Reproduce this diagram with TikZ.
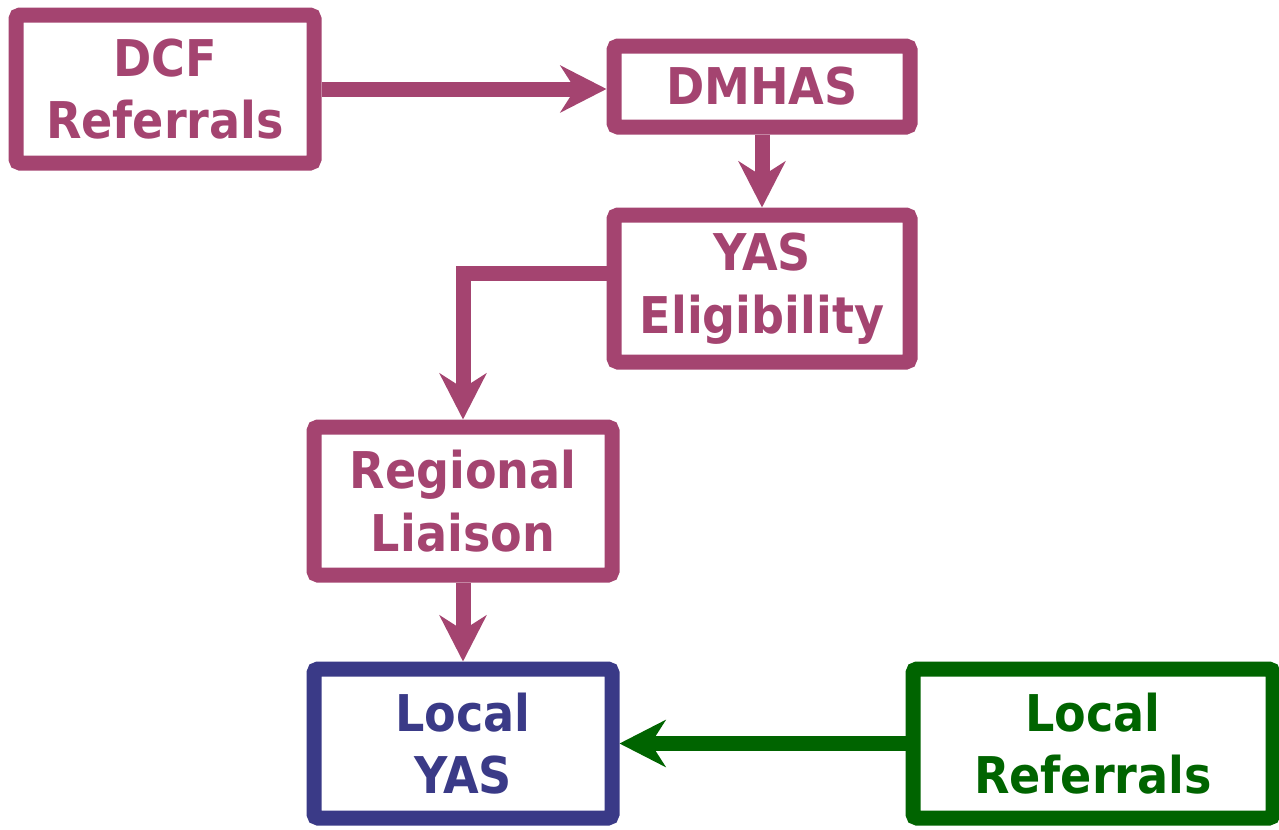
\documentclass[tikz,border=0pt]{standalone}
\usepackage{fontspec}
\setmainfont[FakeStretch=0.91]{DejaVu Sans}
\usetikzlibrary{arrows.meta}
\definecolor{mag}{HTML}{A44470}
\definecolor{navy}{HTML}{3A3A87}
\definecolor{dgreen}{HTML}{006400}
\begin{document}
\begin{tikzpicture}[x=0.75pt,y=-0.75pt,
  box/.style={draw, line width=11.25pt, rounded corners=3pt, align=center,
    font=\bfseries\fontsize{38}{47}\selectfont, inner sep=0pt},
  conn/.style={line width=11.25pt, line join=miter,
    -{Stealth[length=34.5pt,width=35pt,inset=11pt]}}]
\useasboundingbox (0,0) rectangle (1279,829);
\node[box, mag, minimum width=223.5pt, minimum height=111pt] (dcf) at (165,89) {DCF\\Referrals};
\node[box, mag, minimum width=222pt, minimum height=60.75pt] (dmhas) at (762,86.5) {DMHAS};
\node[box, mag, minimum width=222pt, minimum height=110.25pt] (yas) at (762,288.5) {YAS\\Eligibility};
\node[box, mag, minimum width=223.5pt, minimum height=111pt] (reg) at (463,501) {Regional\\Liaison};
\node[box, navy, minimum width=223.5pt, minimum height=111.75pt] (lyas) at (463,743.5) {Local\\YAS};
\node[box, dgreen, minimum width=270pt, minimum height=111.75pt] (lref) at (1093,743.5) {Local\\Referrals};
\draw[conn, mag] (dcf.east) -- (dcf.east -| dmhas.west);
\draw[conn, mag] ([yshift=10.9pt]yas.west) -| (reg.north);
\draw[conn, mag] (dmhas.south) -- (yas.north);
\draw[conn, mag] (reg.south) -- (lyas.north);
\draw[conn, dgreen] (lref.west) -- (lref.west -| lyas.east);
\end{tikzpicture}
\end{document}
